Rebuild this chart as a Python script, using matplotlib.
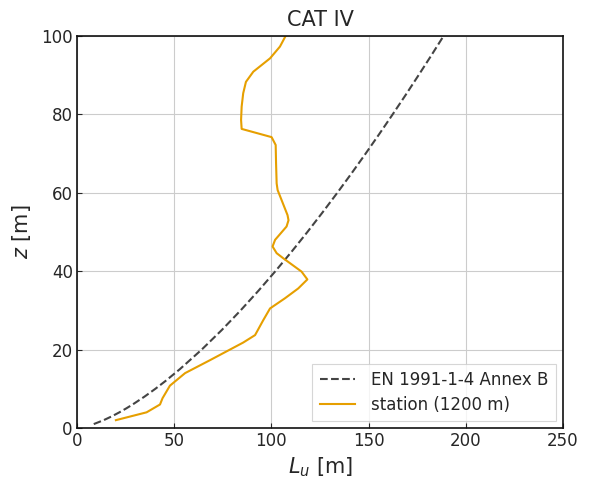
import matplotlib
matplotlib.use("Agg")
import matplotlib.pyplot as plt

# EN 1991-1-4 Annex B turbulence length scale (CAT IV)
z_en = [1, 2, 3, 4, 5, 6, 8, 10, 12, 15, 20, 25, 30, 35, 40, 45, 50, 55, 60,
        65, 70, 75, 80, 85, 90, 95, 100]
L_en = [8.62, 13.72, 18.00, 21.82, 25.33, 28.63, 34.71, 40.31, 45.55, 52.89,
        64.14, 74.49, 84.16, 93.31, 102.05, 110.43, 118.51, 126.31, 133.90,
        141.28, 148.47, 155.50, 162.37, 169.11, 175.70, 182.20, 188.56]

# station (1200 m)
z_st = [2, 4, 6, 7.6, 10.8, 14, 17.3, 21.8, 23.7, 27.5, 30.5, 33.1, 35.6, 37.9,
        39.9, 43.3, 44.6, 46.3, 48, 51.4, 53, 54.3, 58.2, 60.7, 62.4, 67.5,
        72.2, 74.2, 76.3, 78.6, 82, 85.4, 88.3, 90.9, 94.3, 97.3, 100]
L_st = [20, 35.8, 42.7, 44, 47.8, 55.6, 68.4, 85.5, 91.6, 95.8, 99.3, 107,
        113.8, 118.5, 115.5, 106.1, 102.7, 100.6, 101.9, 107.8, 108.8, 108.3,
        105.2, 103.2, 102.7, 102.4, 102.2, 100.1, 84.7, 84.4, 84.7, 85.5, 86.9,
        90.7, 99.3, 104.4, 107.3]

xticks = [0, 50, 100, 150, 200, 250]
yticks = [0, 20, 40, 60, 80, 100]

txt = "#262626"
plt.rcParams['font.family'] = ['DejaVu Sans']

fig = plt.figure(figsize=(5.89, 4.90), dpi=100)
ax = fig.add_axes([77/589, 1-428/490, (563-77)/589, (428-36)/490])

ax.plot(L_en, z_en, linestyle=(0, (3.7, 1.6)), color="#444444", lw=1.5,
        label="EN 1991-1-4 Annex B")
ax.plot(L_st, z_st, color="#E69F00", lw=1.5, label="station (1200 m)")

ax.set_xlim(0, 250)
ax.set_ylim(0, 100)
ax.set_xticks(xticks)
ax.set_yticks(yticks)
ax.grid(True, color="#cccccc", lw=0.8)
ax.set_axisbelow(True)
ax.tick_params(direction="in", length=3.5, labelsize=12, colors=txt,
               pad=3)
for s in ax.spines.values():
    s.set_color("#111111")
    s.set_linewidth(1.2)

ax.set_xlabel("$L_u$ [m]", fontsize=15, color=txt, labelpad=4)
ax.set_ylabel("$z$ [m]", fontsize=15, color=txt, labelpad=6)
ax.set_title("CAT IV", fontsize=15, color=txt, pad=7)

leg = ax.legend(loc="lower right", fontsize=12, frameon=True, fancybox=False,
                edgecolor="#cccccc", borderpad=0.45, handlelength=2.1,
                handletextpad=1.0, labelspacing=0.4, borderaxespad=0.4)
for t in leg.get_texts():
    t.set_color(txt)
leg.get_frame().set_linewidth(0.8)

fig.savefig("out.png", dpi=100)
